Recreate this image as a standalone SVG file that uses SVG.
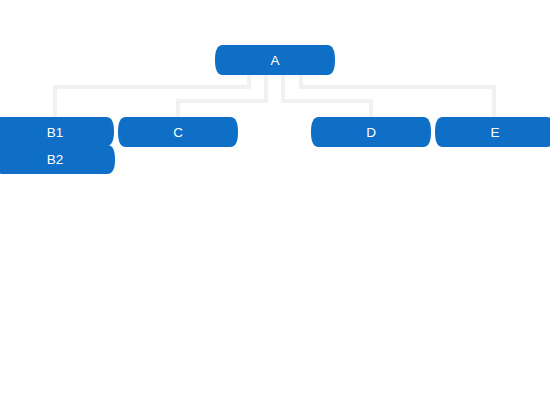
<svg xmlns="http://www.w3.org/2000/svg" width="550" height="420" viewBox="0 0 550 420">
<style>
.n{fill:#0f6fc6}
.t{fill:#ffffff;font-family:"Liberation Sans",Arial,sans-serif;font-size:13.5px;text-anchor:middle;dominant-baseline:central}
.c{fill:none;stroke:#f1f1f1;stroke-width:4}
</style>
<defs>
<path id="shape" d="M-52,-15 H52 C58,-15 60,-9 60,0 C60,9 58,15 52,15 H-52 C-58,15 -60,9 -60,0 C-60,-9 -58,-15 -52,-15 Z"/>
</defs>
<rect width="550" height="420" fill="#ffffff"/>
<g id="connectors">
<path class="c" d="M249 75 V87 H55 V117"/>
<path class="c" d="M266 75 V101 H178 V117"/>
<path class="c" d="M283 75 V101 H371 V117"/>
<path class="c" d="M301 75 V87 H494 V117"/>
</g>
<g id="A"><use href="#shape" class="n" transform="translate(275,60)"/><text class="t" x="275" y="60">A</text></g>
<g id="B2"><use href="#shape" class="n" transform="translate(55,159.5) scale(1,0.97)"/><text class="t" x="55" y="159">B2</text></g>
<g id="B1"><use href="#shape" class="n" transform="translate(54,131.5) scale(1,0.97)"/><text class="t" x="55" y="132">B1</text></g>
<g id="C"><use href="#shape" class="n" transform="translate(178,132)"/><text class="t" x="178" y="132">C</text></g>
<g id="D"><use href="#shape" class="n" transform="translate(371,132)"/><text class="t" x="371" y="132">D</text></g>
<g id="E"><use href="#shape" class="n" transform="translate(495,132)"/><text class="t" x="495" y="132">E</text></g>
</svg>
